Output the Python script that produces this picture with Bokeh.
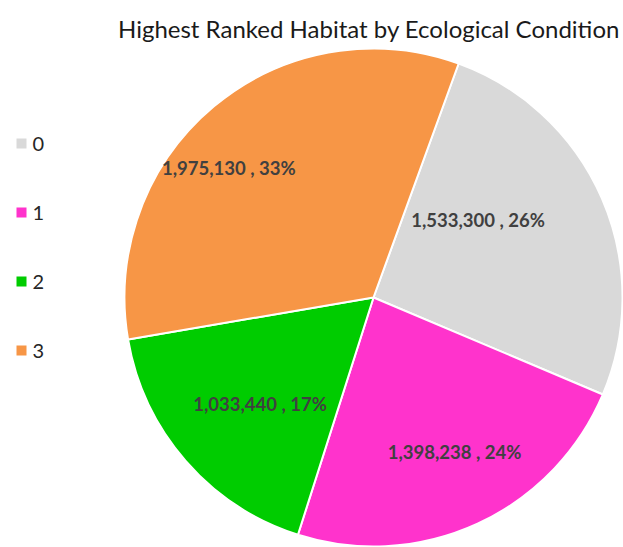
import math
from bokeh.plotting import figure
from bokeh.models import Range1d, ColumnDataSource
from bokeh.core.properties import value
from bokeh.embed import file_html
from bokeh.resources import INLINE

# ---- data ----
categories = ["0", "1", "2", "3"]
values = [1533300, 1398238, 1033440, 1975130]
colors = ["#D9D9D9", "#FF33CC", "#00CC00", "#F79646"]
title_text = "Highest Ranked Habitat by Ecological Condition"

# ---- layout / style ----
W, H = 623, 547
CX, CY = 373, 297        # pie centre in figure pixels
R = 249
FIRST_ANGLE = 20.0       # degrees clockwise from 12 o'clock
label_angle_shift = [-13.0, -3.0, -2.2, -8.3]
label_radius_frac = [0.523, 0.70, 0.625, 0.78]
FONT = "Lato"

def Y(img_y):
    return H - img_y  # figure y (down) -> data y (up)

p = figure(width=W, height=H, output_backend="svg", toolbar_location=None,
           x_range=Range1d(0, W), y_range=Range1d(0, H),
           min_border=0, outline_line_color=None)
p.axis.visible = False
p.grid.visible = False
p.background_fill_color = "white"
p.border_fill_color = "white"

total = sum(values)
starts, ends, mids = [], [], []
acc = FIRST_ANGLE
for v in values:
    sweep = v / total * 360.0
    t0, t1 = acc, acc + sweep
    starts.append(math.radians(90 - t1))
    ends.append(math.radians(90 - t0))
    mids.append((t0 + t1) / 2)
    acc = t1

src = ColumnDataSource(dict(start=starts, end=ends, color=colors, cat=categories))
p.wedge(x=CX, y=Y(CY), radius=R, start_angle="start", end_angle="end",
        fill_color="color", line_color="white", line_width=2, source=src)

# data labels
lx, ly, lt = [], [], []
for i, v in enumerate(values):
    th = math.radians(mids[i] + label_angle_shift[i])
    r = R * label_radius_frac[i]
    lx.append(CX + r * math.sin(th))
    ly.append(Y(CY - r * math.cos(th)))
    lt.append(f"{v:,} , {round(v / total * 100)}%")
p.text(x=lx, y=ly, text=lt, text_align="center", text_baseline="middle",
       text_font=value(FONT), text_font_style="bold", text_font_size="18.5px",
       text_color="#404040")

# title
p.text(x=[368.5], y=[Y(28)], text=[title_text], text_align="center",
       text_baseline="alphabetic", text_font=value(FONT), text_font_size="24px",
       text_color="#1a1a1a")

# legend (manual)
LEG_X, LEG_Y0, LEG_PITCH, SQ = 21, 143, 69, 10
leg_y = [Y(LEG_Y0 + i * LEG_PITCH) for i in range(len(categories))]
p.rect(x=[LEG_X] * len(categories), y=leg_y, width=SQ, height=SQ,
       fill_color=colors, line_color=None)
p.text(x=[LEG_X + 11] * len(categories), y=leg_y, text=categories,
       text_align="left", text_baseline="middle", text_font=value(FONT),
       text_font_size="20px", text_color="#262626")

open("out.html", "w").write(file_html(p, INLINE))
